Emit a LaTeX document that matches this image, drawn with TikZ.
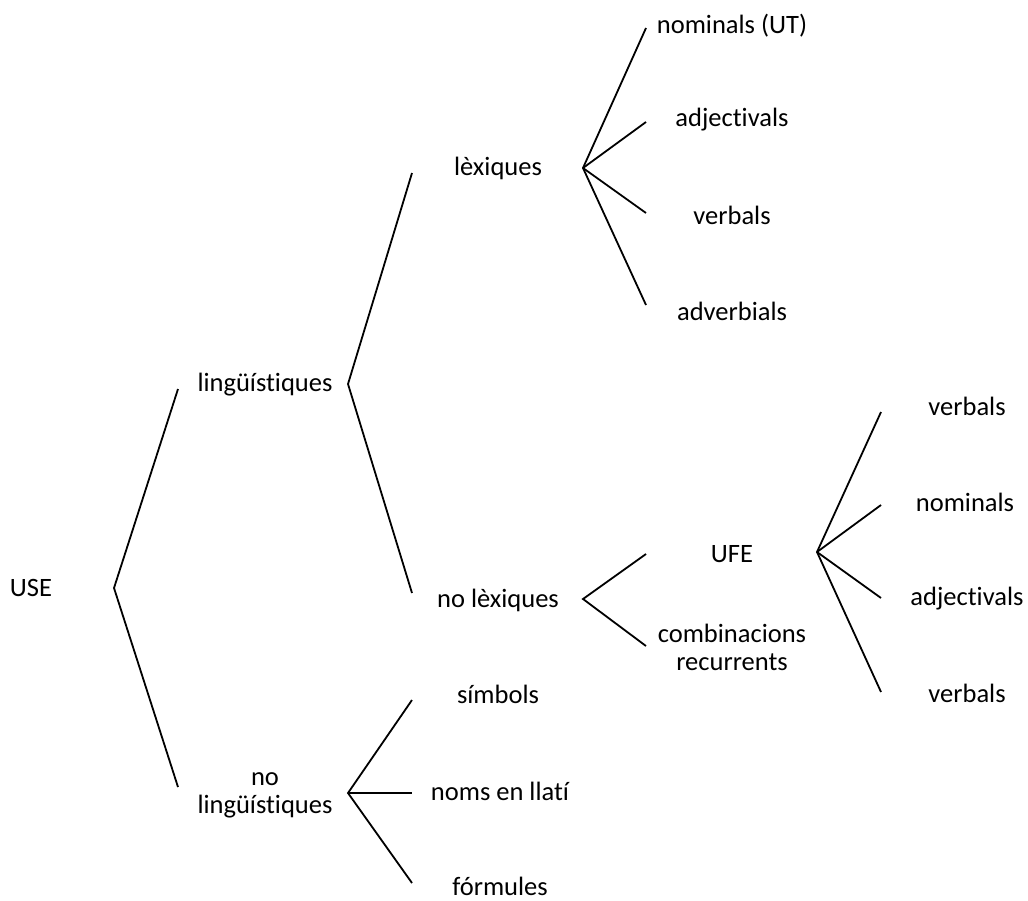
\documentclass[tikz,border=0pt]{standalone}
\usepackage{fontspec}
\setmainfont{Carlito}[Ligatures={NoCommon}]
\newcommand{\twolines}[2]{\begin{tabular}[t]{@{}c@{}}#1\\#2\end{tabular}}
\begin{document}
\begin{tikzpicture}[x=1pt,y=-1pt,
  lbl/.style={anchor=base,inner sep=0pt,font=\fontsize{26.5}{28}\selectfont},
  branch/.style={line width=1.8pt,line join=miter}]
\useasboundingbox (0,0) rectangle (1028,900);

% labels
\node[lbl] (use)    at (31,596)  {USE};
\node[lbl] (ling)   at (265,391) {lingüístiques};
\node[lbl] (noling) at (265,785) {\twolines{no}{lingüístiques}};
\node[lbl] (lex)    at (498,175) {lèxiques};
\node[lbl] (nolex)  at (498,607) {no lèxiques};
\node[lbl] (simb)   at (498,703) {símbols};
\node[lbl] (llati)  at (500,800) {noms en llatí};
\node[lbl] (form)   at (500,895) {fórmules};
\node[lbl] (nomut)  at (732,33)  {nominals (UT)};
\node[lbl] (adja)   at (732,126) {adjectivals};
\node[lbl] (verba)  at (732,224) {verbals};
\node[lbl] (adv)    at (732,320) {adverbials};
\node[lbl] (ufe)    at (732,562) {UFE};
\node[lbl] (comb)   at (732,642) {\twolines{combinacions}{recurrents}};
\node[lbl] (verbb)  at (967,415) {verbals};
\node[lbl] (nomb)   at (965,511) {nominals};
\node[lbl] (adjb)   at (967,605) {adjectivals};
\node[lbl] (verbc)  at (967,702) {verbals};

% fork points (right of each parent)
\coordinate (f-use)    at (114,588);
\coordinate (f-ling)   at (348,384);
\coordinate (f-noling) at (348,793);
\coordinate (f-lex)    at (583,168);
\coordinate (f-nolex)  at (583,599);
\coordinate (f-ufe)    at (817,552);

% branch tips (left of each child)
\coordinate (t-ling)   at (178,389);
\coordinate (t-noling) at (178,787);
\coordinate (t-lex)    at (412,173);
\coordinate (t-nolex)  at (412,593);
\coordinate (t-simb)   at (412,700);
\coordinate (t-llati)  at (412,793);
\coordinate (t-form)   at (412,883);
\coordinate (t-nomut)  at (646,28);
\coordinate (t-adja)   at (646,122);
\coordinate (t-verba)  at (646,213);
\coordinate (t-adv)    at (646,305);
\coordinate (t-ufe)    at (646,554);
\coordinate (t-comb)   at (646,646);
\coordinate (t-verbb)  at (881,412);
\coordinate (t-nomb)   at (881,505);
\coordinate (t-adjb)   at (881,598);
\coordinate (t-verbc)  at (881,692);

% branches
\draw[branch] (t-ling) -- (f-use) -- (t-noling);
\draw[branch] (t-lex) -- (f-ling) -- (t-nolex);
\draw[branch] (t-simb) -- (f-noling) -- (t-form);
\draw[branch] (f-noling) -- (t-llati);
\draw[branch] (t-nomut) -- (f-lex) -- (t-adv);
\draw[branch] (f-lex) -- (t-adja);
\draw[branch] (f-lex) -- (t-verba);
\draw[branch] (t-ufe) -- (f-nolex) -- (t-comb);
\draw[branch] (t-verbb) -- (f-ufe) -- (t-verbc);
\draw[branch] (f-ufe) -- (t-nomb);
\draw[branch] (f-ufe) -- (t-adjb);
\end{tikzpicture}
\end{document}
